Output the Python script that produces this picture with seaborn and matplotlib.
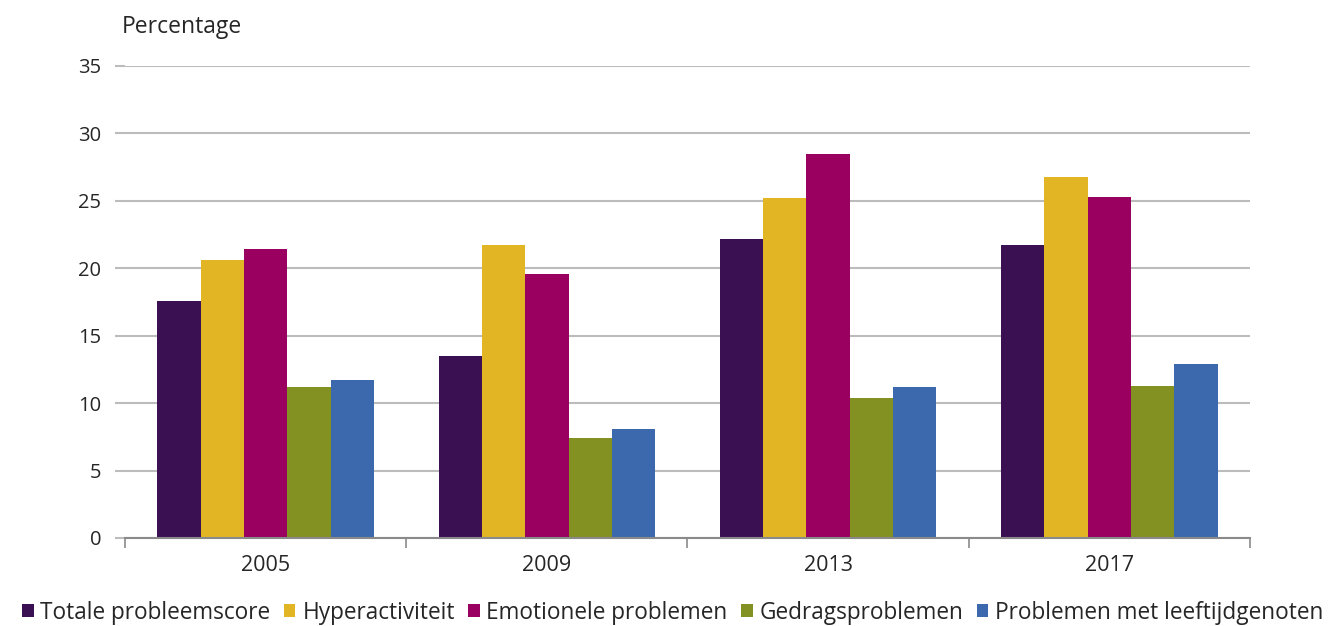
import pandas as pd
import matplotlib.pyplot as plt
import seaborn as sns

# DATA
jaren = ["2005", "2009", "2013", "2017"]
categorieen = [
    "Totale probleemscore",
    "Hyperactiviteit",
    "Emotionele problemen",
    "Gedragsproblemen",
    "Problemen met leeftijdgenoten",
]
totale = [17.6, 13.5, 22.2, 21.7]
hyper = [20.6, 21.7, 25.2, 26.8]
emotioneel = [21.4, 19.6, 28.5, 25.3]
gedrag = [11.2, 7.4, 10.4, 11.3]
leeftijdgenoten = [11.7, 8.1, 11.2, 12.9]

kleuren = ["#3b1053", "#e1b524", "#990060", "#839022", "#3c69ad"]

reeksen = [totale, hyper, emotioneel, gedrag, leeftijdgenoten]
rijen = []
for cat, waarden in zip(categorieen, reeksen):
    for jaar, w in zip(jaren, waarden):
        rijen.append({"jaar": jaar, "categorie": cat, "pct": w})
df = pd.DataFrame(rijen)

sns.set_style("white")
plt.rcParams["font.family"] = ["Open Sans", "DejaVu Sans"]

fig = plt.figure(figsize=(13.34, 6.26), dpi=100)
ax = fig.add_axes([0.0937, 0.1406, 0.8433, 0.754])

sns.barplot(
    data=df, x="jaar", y="pct", hue="categorie",
    palette=kleuren, width=0.77, gap=0, saturation=1,
    edgecolor="none", ax=ax, legend=True
)

ax.set_ylim(0, 35)
ax.set_xlim(-0.5, 3.5)
ax.set_yticks(range(0, 36, 5))
ax.yaxis.grid(True, color="#bcbcbc", linewidth=1.5)
ax.set_axisbelow(True)
for s in ["top", "right", "left"]:
    ax.spines[s].set_visible(False)
ax.spines["bottom"].set_color("#8a8a8a")
ax.spines["bottom"].set_linewidth(1.5)

# ticks op de groepsgrenzen
ax.set_xticks([-0.5, 0.5, 1.5, 2.5, 3.5], minor=True)
ax.tick_params(axis="x", which="major", bottom=False, length=0, labelsize=15.5, pad=12)
ax.tick_params(axis="x", which="minor", bottom=True, length=7, width=1.2,
               color="#8a8a8a", direction="out")
ax.tick_params(axis="y", left=True, length=7, width=1.5, color="#bcbcbc",
               labelsize=14.5, pad=10)

ax.set_xlabel("")
ax.set_ylabel("")
fig.text(0.091, 0.957, "Percentage", fontsize=16.5, ha="left", va="center")

leg = ax.legend(
    loc="center", bbox_to_anchor=(0.487, -0.158), bbox_transform=ax.transAxes,
    ncol=5, frameon=False, fontsize=16.3,
    handlelength=0.5, handleheight=0.5, handletextpad=0.3,
    columnspacing=0.6, borderaxespad=0
)

fig.savefig("out.png", dpi=100)
plt.close()
